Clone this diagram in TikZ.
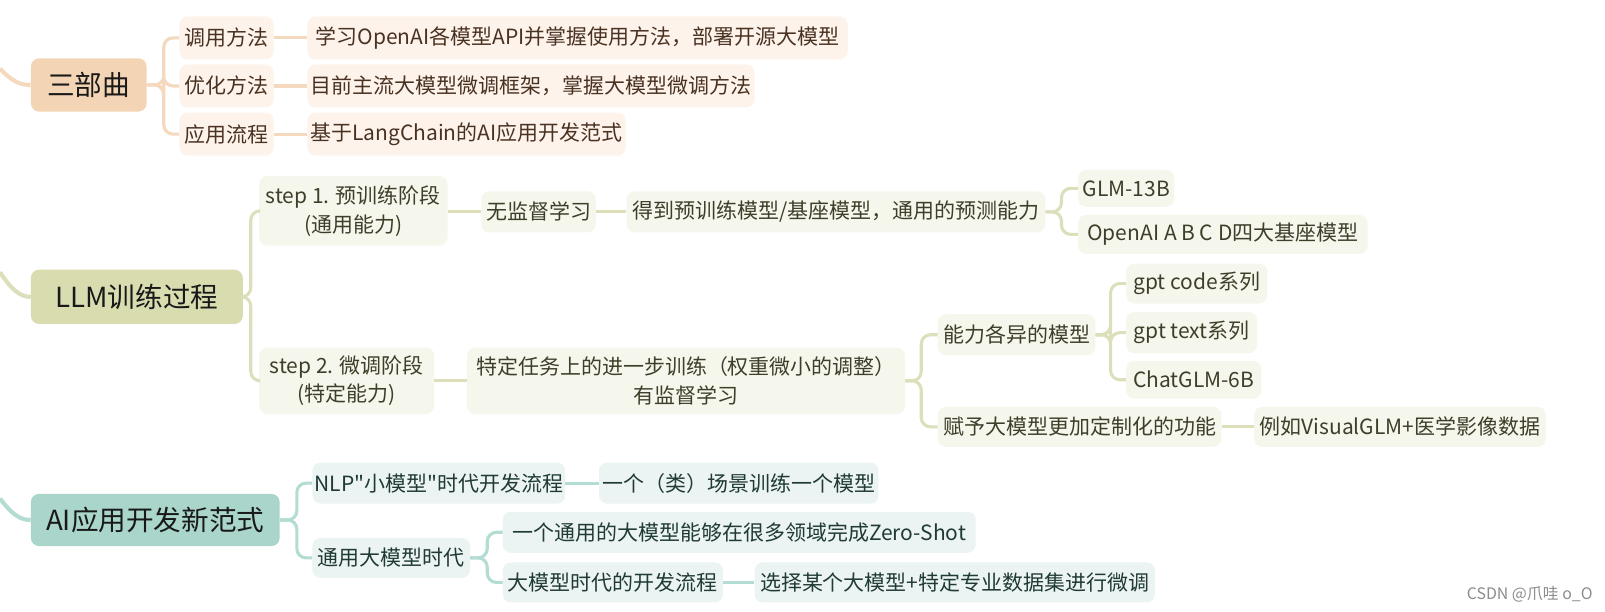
\documentclass[tikz,border=0pt]{standalone}
\usepackage{fontspec}
\setmainfont[Ligatures=TeXOff]{Noto Sans CJK SC}
\definecolor{pM}{HTML}{F3D4B4}
\definecolor{pL}{HTML}{F5D9BE}
\definecolor{pC}{HTML}{FDF3EB}
\definecolor{pT}{HTML}{4A3222}
\definecolor{oM}{HTML}{D8DCAF}
\definecolor{oL}{HTML}{DCDFBA}
\definecolor{oC}{HTML}{F6F7EC}
\definecolor{oT}{HTML}{3E3E2A}
\definecolor{tM}{HTML}{A9D5CB}
\definecolor{tL}{HTML}{B3DCD3}
\definecolor{tC}{HTML}{EBF4F2}
\definecolor{tT}{HTML}{203A36}
\tikzset{
  box/.style={rounded corners=8pt, inner sep=0pt, anchor=west, align=center},
  mainbox/.style={box, font=\fontsize{27}{31}\selectfont, text=black!90},
  kidbox/.style={box, font=\fontsize{20.5}{28}\selectfont},
  m1/.style={mainbox, fill=pM}, m2/.style={mainbox, fill=oM}, m3/.style={mainbox, fill=tM},
  c1/.style={kidbox, fill=pC, text=pT}, c2/.style={kidbox, fill=oC, text=oT}, c3/.style={kidbox, fill=tC, text=tT},
  l1/.style={draw=pL, line width=3pt, rounded corners=9pt},
  l2/.style={draw=oL, line width=3pt, rounded corners=9pt},
  l3/.style={draw=tL, line width=3pt, rounded corners=9pt},
}
\begin{document}
\begin{tikzpicture}[x=1pt,y=-1pt]
\useasboundingbox[fill=white] (0,0) rectangle (1568,597);
% section 1
\node[m1, minimum width=113pt, minimum height=52pt] (sbq) at (30,83) {三部曲};
\node[c1, minimum width=92pt, minimum height=42pt] (dy) at (175,37) {调用方法};
\node[c1, minimum width=92pt, minimum height=42pt] (yh) at (175,84) {优化方法};
\node[c1, minimum width=92pt, minimum height=42pt] (yy) at (175,131) {应用流程};
\node[c1, minimum width=528pt, minimum height=42pt] (dy2) at (300,37) {学习OpenAI各模型API并掌握使用方法，部署开源大模型};
\node[c1, minimum width=437pt, minimum height=42pt] (yh2) at (300,84) {目前主流大模型微调框架，掌握大模型微调方法};
\node[c1, minimum width=311pt, minimum height=42pt] (yy2) at (300,131) {基于LangChain的AI应用开发范式};
\coordinate (in1) at (0,67);
\path[draw=pL, line width=4pt] (in1) .. controls (12,80) and (20,83) .. (sbq.west);
\foreach \k in {dy,yh,yy} {\path[l1] (sbq.east) -- (160,83) |- (\k.west);}
\path[l1] (dy.east) -- (dy2.west);
\path[l1] (yh.east) -- (yh2.west);
\path[l1] (yy.east) -- (yy2.west);
% section 2
\node[m2, minimum width=207pt, minimum height=53pt] (llm) at (30,290) {LLM训练过程};
\node[c2, minimum width=184pt, minimum height=68pt] (s1) at (253,206) {step 1. 预训练阶段\\(通用能力)};
\node[c2, minimum width=171pt, minimum height=65pt] (s2) at (253,372) {step 2. 微调阶段\\(特定能力)};
\node[c2, minimum width=112pt, minimum height=40pt] (wj) at (470,207) {无监督学习};
\node[c2, minimum width=409pt, minimum height=40pt] (dd) at (612,207) {得到预训练模型/基座模型，通用的预测能力};
\node[c2, minimum width=94pt, minimum height=36pt] (glm) at (1053,184) {GLM-13B};
\node[c2, minimum width=283pt, minimum height=38pt] (oai) at (1053,229) {OpenAI A B C D四大基座模型};
\node[c2, minimum width=428pt, minimum height=65pt] (td) at (456,372) {特定任务上的进一步训练（权重微小的调整）\\有监督学习};
\node[c2, minimum width=154pt, minimum height=40pt] (nl) at (916,327) {能力各异的模型};
\node[c2, minimum width=138pt, minimum height=39pt] (gc) at (1100,277) {gpt code系列};
\node[c2, minimum width=128pt, minimum height=40pt] (gt) at (1100,325) {gpt text系列};
\node[c2, minimum width=132pt, minimum height=37pt] (cg) at (1100,371) {ChatGLM-6B};
\node[c2, minimum width=277pt, minimum height=39pt] (fy) at (916,417) {赋予大模型更加定制化的功能};
\node[c2, minimum width=285pt, minimum height=39pt] (lr) at (1225,417) {例如VisualGLM+医学影像数据};
\coordinate (in2) at (0,266);
\path[draw=oL, line width=4pt] (in2) .. controls (12,284) and (20,290) .. (llm.west);
\foreach \k in {s1,s2} {\path[l2] (llm.east) -- (245,290) |- (\k.west);}
\path[l2] (s1.east |- wj.west) -- (wj.west);
\path[l2] (wj.east) -- (dd.west);
\foreach \k in {glm,oai} {\path[l2] (dd.east) -- (1037,207) |- (\k.west);}
\path[l2] (s2.east) -- (td.west);
\foreach \k in {nl,fy} {\path[l2] (td.east) -- (900,372) |- (\k.west);}
\foreach \k in {gc,gt,cg} {\path[l2] (nl.east) -- (1085,327) |- (\k.west);}
\path[l2] (fy.east) -- (lr.west);
% section 3
\node[m3, minimum width=243pt, minimum height=51pt] (ai) at (30,508) {AI应用开发新范式};
\node[c3, minimum width=247pt, minimum height=40pt] (nlp) at (305,472) {NLP"小模型"时代开发流程};
\node[c3, minimum width=154pt, minimum height=39pt] (ty) at (305,545) {通用大模型时代};
\node[c3, minimum width=273pt, minimum height=40pt] (yg) at (585,472) {一个（类）场景训练一个模型};
\node[c3, minimum width=462pt, minimum height=40pt] (ygty) at (491,520) {一个通用的大模型能够在很多领域完成Zero-Shot};
\node[c3, minimum width=215pt, minimum height=39pt] (dmx) at (491,569) {大模型时代的开发流程};
\node[c3, minimum width=391pt, minimum height=39pt] (xz) at (737,569) {选择某个大模型+特定专业数据集进行微调};
\coordinate (in3) at (0,487);
\path[draw=tL, line width=4pt] (in3) .. controls (12,503) and (20,508) .. (ai.west);
\foreach \k in {nlp,ty} {\path[l3] (ai.east) -- (290,508) |- (\k.west);}
\path[l3] (nlp.east) -- (yg.west);
\foreach \k in {ygty,dmx} {\path[l3] (ty.east) -- (476,545) |- (\k.west);}
\path[l3] (dmx.east) -- (xz.west);
% watermark
\node[anchor=east, text=black!45, font=\fontsize{15.5}{18}\selectfont, inner sep=0pt] (wm) at (1556,581) {CSDN @爪哇 o\_O};
\end{tikzpicture}
\end{document}
